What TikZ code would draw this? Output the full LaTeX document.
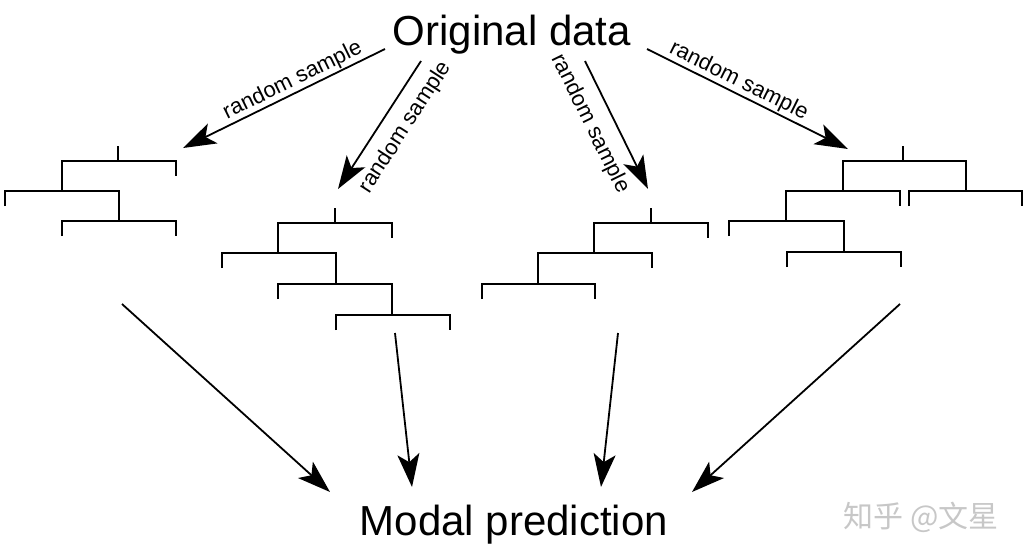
\documentclass[tikz,border=0pt]{standalone}
\usepackage{fontspec}
\setmainfont{Liberation Sans}
\newfontfamily\cjk{Noto Sans CJK SC}
\usetikzlibrary{arrows.meta}
\begin{document}
\begin{tikzpicture}[x=1pt,y=-1pt,
  treeline/.style={line width=2.9pt, line join=miter},
  conn/.style={line width=1.8pt, -{Stealth[length=33pt,width=22pt,inset=8pt]}},
  lbl/.style={font=\fontsize{22}{26}\selectfont, inner sep=0pt, sloped},
  big/.style={font=\fontsize{42}{50}\selectfont, inner sep=0pt},
  wm/.style={font=\cjk\fontsize{30}{34}\selectfont, text=black!22, inner sep=0pt}]
\useasboundingbox (0,0) rectangle (1030,550);

% titles
\node[big, anchor=base] (orig) at (512,45) {Original data};
\node[big, anchor=base] (pred) at (514,535) {Modal prediction};
\node[wm] (wm) at (921,517) {知乎 @文星};

% tree 1
\coordinate (t1) at (118,146);
\draw[treeline] (t1) -- (118,161);
\draw[treeline] (62,191) -- (62,161) -- (176,161) -- (176,176);
\draw[treeline] (5,206) -- (5,191) -- (119,191) -- (119,221);
\draw[treeline] (62,236) -- (62,221) -- (176,221) -- (176,236);

% tree 2
\coordinate (t2) at (335,208);
\draw[treeline] (t2) -- (335,223);
\draw[treeline] (278,253) -- (278,223) -- (392,223) -- (392,238);
\draw[treeline] (222,268) -- (222,253) -- (336,253) -- (336,284);
\draw[treeline] (278,299) -- (278,284) -- (392,284) -- (392,315);
\draw[treeline] (336,330) -- (336,315) -- (450,315) -- (450,330);

% tree 3
\coordinate (t3) at (651,208);
\draw[treeline] (t3) -- (651,223);
\draw[treeline] (594,253) -- (594,223) -- (708,223) -- (708,238);
\draw[treeline] (538,284) -- (538,253) -- (652,253) -- (652,268);
\draw[treeline] (482,299) -- (482,284) -- (595,284) -- (595,299);

% tree 4
\coordinate (t4) at (903,146);
\draw[treeline] (t4) -- (903,161);
\draw[treeline] (843,191) -- (843,161) -- (966,161) -- (966,191);
\draw[treeline] (786,221) -- (786,191) -- (900,191) -- (900,206);
\draw[treeline] (909,206) -- (909,191) -- (1022,191) -- (1022,206);
\draw[treeline] (729,236) -- (729,221) -- (844,221) -- (844,252);
\draw[treeline] (787,267) -- (787,252) -- (901,252) -- (901,267);

% connector end points
\coordinate (s1) at (385,49);  \coordinate (e1) at (183,148);
\coordinate (s2) at (421,61);  \coordinate (e2) at (338,189);
\coordinate (s3) at (585,61);  \coordinate (e3) at (648,189);
\coordinate (s4) at (647,49);  \coordinate (e4) at (848,149);
\coordinate (b1) at (122,304); \coordinate (f1) at (330,492);
\coordinate (b2) at (395,333); \coordinate (f2) at (412,487);
\coordinate (b3) at (618,333); \coordinate (f3) at (601,487);
\coordinate (b4) at (900,304); \coordinate (f4) at (692,492);

% sampling arrows
\draw[conn] (s1) -- node[lbl, pos=0.43, above=1pt] {random sample} (e1);
\draw[conn] (s2) -- node[lbl, pos=0.42, below=12pt] {random sample} (e2);
\draw[conn] (s3) -- node[lbl, pos=0.41, below=12pt] {random sample} (e3);
\draw[conn] (s4) -- node[lbl, pos=0.43, above=1pt] {random sample} (e4);

% prediction arrows
\draw[conn] (b1) -- (f1);
\draw[conn] (b2) -- (f2);
\draw[conn] (b3) -- (f3);
\draw[conn] (b4) -- (f4);
\end{tikzpicture}
\end{document}
